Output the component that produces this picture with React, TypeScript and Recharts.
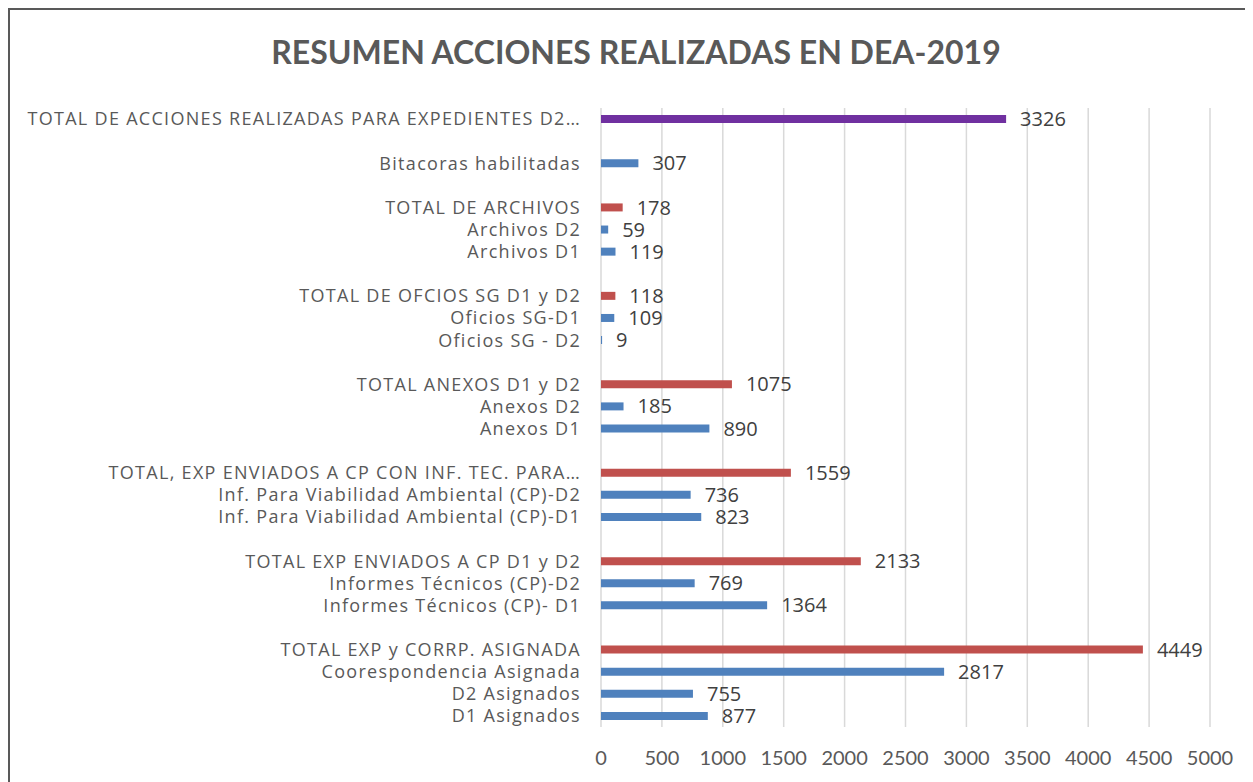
import React from 'react';
import { Bar, BarChart, CartesianGrid, Cell, LabelList, XAxis, YAxis } from 'recharts';

// rows top to bottom; empty names are the spacer rows between groups
const categories = [
  'TOTAL DE ACCIONES REALIZADAS PARA EXPEDIENTES D2…',
  '',
  'Bitacoras habilitadas',
  '',
  'TOTAL DE ARCHIVOS',
  'Archivos D2',
  'Archivos D1',
  '',
  'TOTAL DE OFCIOS SG D1 y D2',
  'Oficios SG-D1',
  'Oficios SG - D2',
  '',
  'TOTAL ANEXOS D1 y D2',
  'Anexos D2',
  'Anexos D1',
  '',
  'TOTAL, EXP ENVIADOS A CP CON INF. TEC. PARA…',
  'Inf. Para Viabilidad Ambiental (CP)-D2',
  'Inf. Para Viabilidad Ambiental (CP)-D1',
  '',
  'TOTAL EXP ENVIADOS A CP D1 y D2',
  'Informes Técnicos (CP)-D2',
  'Informes Técnicos (CP)- D1',
  '',
  'TOTAL EXP y CORRP. ASIGNADA',
  'Coorespondencia Asignada',
  'D2 Asignados',
  'D1 Asignados',
];

const values: (number | null)[] = [
  3326, null, 307, null,
  178, 59, 119, null,
  118, 109, 9, null,
  1075, 185, 890, null,
  1559, 736, 823, null,
  2133, 769, 1364, null,
  4449, 2817, 755, 877,
];

const xTicks = [0, 500, 1000, 1500, 2000, 2500, 3000, 3500, 4000, 4500, 5000];

const data = categories.map((name, i) => ({ key: `r${i}`, name, value: values[i] }));

const colorFor = (name: string) => {
  if (name.startsWith('TOTAL DE ACCIONES')) return '#7030a0';
  if (name.startsWith('TOTAL')) return '#c0504d';
  return '#4f81bd';
};

const FONT = 'Lato, "Open Sans", sans-serif';
const LABEL_FONT = '"Open Sans", Lato, sans-serif';

const CategoryTick = (props: any) => {
  const { x, y, index } = props;
  return (
    <text
      x={x}
      y={y}
      dy="0.355em"
      textAnchor="end"
      fill="#595959"
      fontSize={18}
      fontFamily={LABEL_FONT}
      letterSpacing={1.3}
    >
      {categories[index]}
    </text>
  );
};

export default function App() {
  return (
    <div style={{ position: 'relative', width: 1245, height: 774, overflow: 'hidden', fontFamily: FONT }}>
      <div
        style={{
          position: 'absolute',
          left: 0,
          top: 0,
          width: 1300,
          height: 900,
          border: '2px solid #595959',
          boxSizing: 'border-box',
        }}
      />
      <div
        style={{
          position: 'absolute',
          left: 0,
          top: 24,
          width: 1256,
          textAlign: 'center',
          fontSize: 32,
          fontWeight: 'bold',
          color: '#595959',
        }}
      >
        RESUMEN ACCIONES REALIZADAS EN DEA-2019
      </div>
      <div style={{ position: 'absolute', left: 0, top: 0 }}>
        <BarChart
          width={1245}
          height={774}
          data={data}
          layout="vertical"
          barSize={8}
          margin={{ top: 100, right: 43, bottom: 25, left: 0 }}
        >
          <CartesianGrid horizontal={false} stroke="#d9d9d9" strokeWidth={1.5} />
          <XAxis
            type="number"
            domain={[0, 5000]}
            ticks={xTicks}
            interval={0}
            axisLine={false}
            tickLine={false}
            tickSize={0}
            tickMargin={24}
            height={30}
            tick={{ fill: '#595959', fontSize: 20, fontFamily: FONT }}
          />
          <YAxis
            type="category"
            dataKey="key"
            width={593}
            axisLine={false}
            tickLine={false}
            tickSize={0}
            tickMargin={20}
            interval={0}
            tick={<CategoryTick />}
          />
          <Bar dataKey="value" isAnimationActive={false}>
            {data.map((d) => (
              <Cell key={d.key} fill={colorFor(d.name)} />
            ))}
            <LabelList
              dataKey="value"
              position="right"
              offset={14}
              fill="#404040"
              fontSize={20}
              fontFamily={LABEL_FONT}
            />
          </Bar>
        </BarChart>
      </div>
    </div>
  );
}
